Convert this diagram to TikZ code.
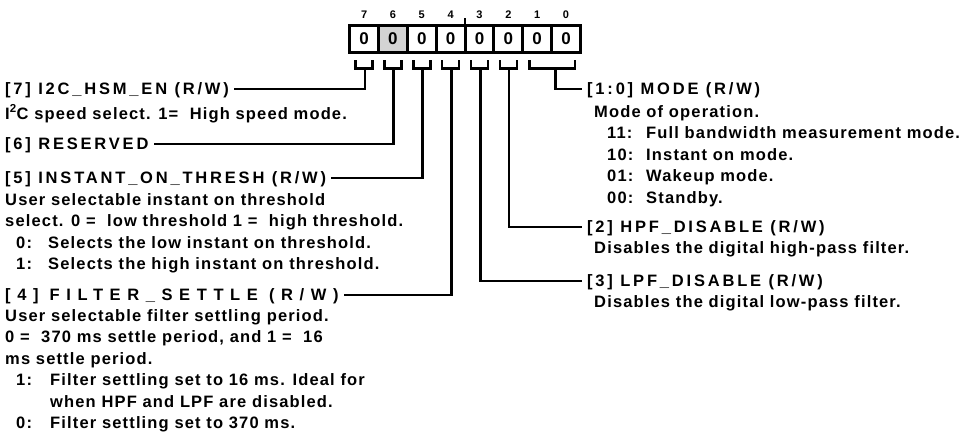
\documentclass[tikz,border=0pt]{standalone}
\usepackage{fontspec}
\setmainfont{Liberation Sans}[LetterSpace=7]
\newfontfamily\plainfont{Liberation Sans}
\usetikzlibrary{calc}
\definecolor{boxgray}{RGB}{211,211,211}
\tikzset{
  bitbox/.style={draw, line width=3pt, minimum width=28.85pt, minimum height=26.5pt,
    inner sep=0pt, outer sep=0pt, font=\plainfont\bfseries\fontsize{17}{17}\selectfont},
  bitnum/.style={inner sep=0pt, font=\plainfont\bfseries\fontsize{11}{11}\selectfont},
  conn/.style={line width=2.6pt},
  hdr/.style={inner xsep=5pt, inner ysep=0pt, text height=11.8pt, text depth=0pt,
    font=\bfseries\fontsize{16.5}{21.5}\selectfont\addfontfeature{LetterSpace=17}},
  widehdr/.style={hdr, font=\bfseries\fontsize{16.5}{21.5}\selectfont\addfontfeature{LetterSpace=40}},
  desc/.style={anchor=north west, inner sep=0pt, align=left,
    font=\bfseries\fontsize{16.5}{21.5}\selectfont},
}
\newcommand{\fs}{\rule{0pt}{12.5pt}}
\begin{document}
\begin{tikzpicture}[x=1pt,y=-1pt]
\useasboundingbox (0,0) rectangle (969,436);
% register boxes
\node[bitbox] (b7) at (364.1,39) {0};
\node[bitbox, fill=boxgray] (b6) at (392.95,39) {0};
\node[bitbox] (b5) at (421.8,39) {0};
\node[bitbox] (b4) at (450.65,39) {0};
\node[bitbox] (b3) at (479.5,39) {0};
\node[bitbox] (b2) at (508.35,39) {0};
\node[bitbox] (b1) at (537.2,39) {0};
\node[bitbox] (b0) at (566.05,39) {0};
% bit numbers
\foreach \b in {7,6,5,4,3,2,1,0}{
  \node[bitnum] (n\b) at ($(b\b.center)+(0,-24)$) {\b};
}
% tick between bits 4 and 3
\draw[line width=2pt] (b4.north east) -- ++(0,-8);
% brackets
\foreach \b in {7,6,5,4,3,2}{
  \draw[conn] ($(b\b.south)+(-8.5,8)$) -- ++(0,8) -- ++(17,0) -- ++(0,-8);
  \coordinate (s\b) at ($(b\b.south)+(0.8,15.7)$);
}
\draw[conn] ($(b1.south)+(-7.5,8)$) -- ++(0,8) -| ($(b0.south)+(9,8)$);
\coordinate (s10) at ($(b1.south east)+(4,15.7)$);
% headers
\node[hdr, anchor=west] (h7) at (0,89) {[7] I2C\_HSM\_EN (R/W)};
\node[hdr, anchor=west] (h6) at (0,144) {[6] RESERVED};
\node[hdr, anchor=west] (h5) at (0,178) {[5] INSTANT\_ON\_THRESH (R/W)};
\node[widehdr, anchor=west] (h4) at (0,295) {[4] FILTER\_SETTLE (R/W)};
\node[hdr, anchor=west] (h10) at (582,89) {[1:0] MODE (R/W)};
\node[hdr, anchor=west] (h2) at (582,227) {[2] HPF\_DISABLE (R/W)};
\node[hdr, anchor=west] (h3) at (582,281) {[3] LPF\_DISABLE (R/W)};
% connectors
\draw[conn] (s7) |- (h7.east);
\draw[conn] (s6) |- (h6.east);
\draw[conn] (s5) |- (h5.east);
\draw[conn] (s4) |- (h4.east);
\draw[conn] (s10) |- (h10.west);
\draw[conn] (s2) |- (h2.west);
\draw[conn] (s3) |- (h3.west);
% descriptions
\node[desc] (d7) at (5,104.5) {\fs I\textsuperscript{2}C speed select. 1=\ \ High speed mode.};
\node[desc] (d5) at (5,192.5) {\fs User selectable instant on threshold\\
  select. 0 =\ \ low threshold 1 =\ \ high threshold.\\
  \hspace*{11pt}\makebox[32pt][l]{0:}Selects the low instant on threshold.\\
  \hspace*{11pt}\makebox[32pt][l]{1:}Selects the high instant on threshold.};
\node[desc] (d4) at (5,308.5) {\fs User selectable filter settling period.\\
  0 =\ \ 370 ms settle period, and 1 =\ \ 16\\
  ms settle period.\\
  \hspace*{11pt}\makebox[34pt][l]{1:}Filter settling set to 16 ms. Ideal for\\
  \hspace*{45pt}when HPF and LPF are disabled.\\
  \hspace*{11pt}\makebox[34pt][l]{0:}Filter settling set to 370 ms.};
\node[desc] (d10) at (594,104.5) {\fs Mode of operation.\\
  \hspace*{13pt}\makebox[39pt][l]{11:}Full bandwidth measurement mode.\\
  \hspace*{13pt}\makebox[39pt][l]{10:}Instant on mode.\\
  \hspace*{13pt}\makebox[39pt][l]{01:}Wakeup mode.\\
  \hspace*{13pt}\makebox[39pt][l]{00:}Standby.};
\node[desc] (d2) at (594,240.5) {\fs Disables the digital high-pass filter.};
\node[desc] (d3) at (594,294.5) {\fs Disables the digital low-pass filter.};
\end{tikzpicture}
\end{document}
